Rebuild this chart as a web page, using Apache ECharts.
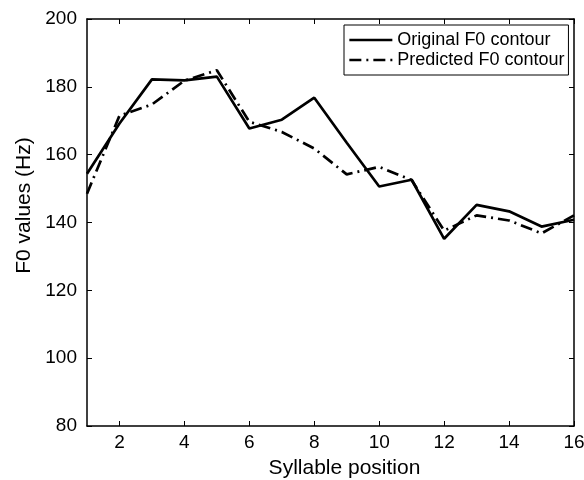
<!DOCTYPE html>
<html style="height: 100%">
  <head>
    <meta charset="utf-8" />
  </head>
  <body style="height: 100%; margin: 0; background: #fff">
    <div id="container" style="width: 584px; height: 480px"></div>

    <script src="https://cdn.jsdelivr.net/npm/echarts@6/dist/echarts.min.js"></script>
    <script type="text/javascript">
      var positions = [1, 2, 3, 4, 5, 6, 7, 8, 9, 10, 11, 12, 13, 14, 15, 16];
      var original = [154.4, 169.2, 182.2, 181.9, 183.0, 167.7, 170.3, 176.8, 163.5, 150.6, 152.6, 135.2, 145.2, 143.3, 138.8, 140.8];
      var predicted = [148.5, 171.5, 174.8, 181.8, 184.9, 169.7, 166.7, 161.8, 154.2, 156.4, 152.5, 137.6, 142.1, 140.6, 136.8, 142.1];
      var xTicks = [2, 4, 6, 8, 10, 12, 14, 16];

      var font = "'Liberation Sans', Arial, sans-serif";

      function pairs(vals) {
        var out = [];
        for (var i = 0; i < positions.length; i++) {
          out.push([positions[i], vals[i]]);
        }
        return out;
      }

      var dom = document.getElementById("container");
      var myChart = echarts.init(dom, null, { renderer: "canvas" });

      var axisLine = { show: true, lineStyle: { color: "#000", width: 1.5 } };
      var tick = { show: true, inside: true, length: 5, lineStyle: { color: "#000", width: 1 } };

      var option = {
        animation: false,
        backgroundColor: "#fff",
        grid: { left: 87, right: 10, top: 19, bottom: 54, outerBoundsMode: "none" },
        legend: {
          orient: "vertical",
          left: 344,
          top: 25,
          backgroundColor: "#fff",
          borderColor: "#000",
          borderWidth: 1,
          borderRadius: 0,
          padding: [6, 4, 6, 4],
          itemGap: 2,
          itemWidth: 43,
          itemHeight: 14,
          itemStyle: { opacity: 0 },
          lineStyle: { width: 2.7 },
          textStyle: { fontSize: 18, color: "#000", fontFamily: font, lineHeight: 18 },
          data: ["Original F0 contour", "Predicted F0 contour"]
        },
        xAxis: [
          {
            type: "value",
            min: 1,
            max: 16,
            position: "bottom",
            name: "Syllable position",
            nameLocation: "middle",
            nameGap: 32,
            nameTextStyle: { fontSize: 21, color: "#000", fontFamily: font, padding: [0, 0, 0, 28] },
            axisLine: axisLine,
            axisTick: Object.assign({ customValues: xTicks }, tick),
            axisLabel: { customValues: xTicks, fontSize: 19, color: "#000", fontFamily: font, margin: 7 },
            splitLine: { show: false }
          },
          {
            type: "value",
            min: 1,
            max: 16,
            position: "top",
            axisLine: axisLine,
            axisTick: Object.assign({ customValues: xTicks }, tick),
            axisLabel: { show: false, customValues: xTicks },
            splitLine: { show: false }
          }
        ],
        yAxis: [
          {
            type: "value",
            min: 80,
            max: 200,
            interval: 20,
            position: "left",
            name: "F0 values (Hz)",
            nameLocation: "middle",
            nameGap: 52,
            nameTextStyle: { fontSize: 21, color: "#000", fontFamily: font, padding: [0, 0, 0, 34] },
            axisLine: axisLine,
            axisTick: tick,
            axisLabel: { fontSize: 19, color: "#000", fontFamily: font, margin: 10 },
            splitLine: { show: false }
          },
          {
            type: "value",
            min: 80,
            max: 200,
            interval: 20,
            position: "right",
            axisLine: axisLine,
            axisTick: tick,
            axisLabel: { show: false },
            splitLine: { show: false }
          }
        ],
        series: [
          {
            name: "Original F0 contour",
            type: "line",
            data: pairs(original),
            symbol: "none",
            lineStyle: { color: "#000", width: 2.7, type: "solid" },
            itemStyle: { color: "#000" }
          },
          {
            name: "Predicted F0 contour",
            type: "line",
            data: pairs(predicted),
            symbol: "none",
            lineStyle: { color: "#000", width: 2.7, type: [12, 5, 2, 5] },
            itemStyle: { color: "#000" }
          }
        ]
      };

      myChart.setOption(option);
    </script>
  </body>
</html>
